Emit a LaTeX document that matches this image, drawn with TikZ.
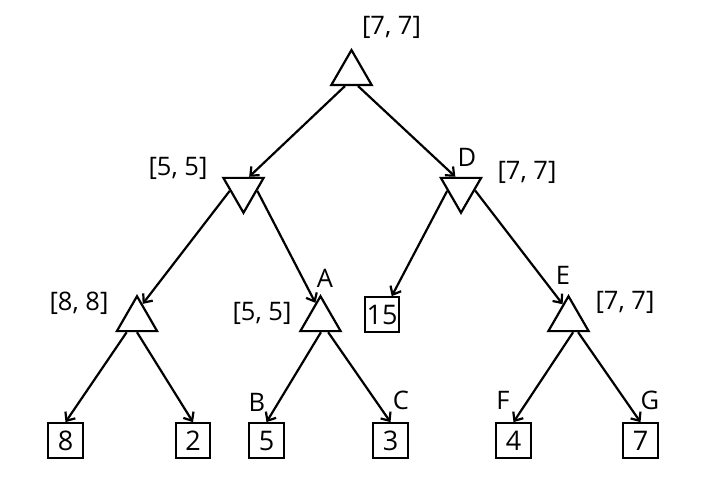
\documentclass[tikz,border=0pt]{standalone}
\usepackage{fontspec}
\setmainfont{Open Sans}
\usetikzlibrary{shapes.geometric,arrows.meta}
\begin{document}
\begin{tikzpicture}[x=1pt,y=-1pt,
  tri/.style={regular polygon, regular polygon sides=3, draw, line width=2.2pt, minimum size=46.5pt, inner sep=0pt},
  maxnode/.style={tri},
  minnode/.style={tri, shape border rotate=180},
  leaf/.style={draw, line width=2.2pt, minimum size=34.5pt, inner sep=0pt, font=\fontsize{27}{30}\selectfont},
  lbl/.style={inner sep=0pt, font=\fontsize{25.5}{30}\selectfont},
  edge/.style={line width=2.2pt, -{Straight Barb[length=7pt,width=12pt]}}]
\useasboundingbox (0,0) rectangle (718,494);
% tree nodes
\node[maxnode] (root) at (351.5,73.3) {};
\node[minnode] (L) at (243.5,189.5) {};
\node[minnode] (D) at (461,189.5) {};
\node[maxnode] (M8) at (137,319.5) {};
\node[maxnode] (A) at (320.5,319.5) {};
\node[maxnode] (E) at (568.5,319.5) {};
\node[leaf] (b15) at (382,314.5) {15};
\node[leaf] (b8) at (65.5,440.5) {8};
\node[leaf] (b2) at (193,440.5) {2};
\node[leaf] (b5) at (266.5,440.5) {5};
\node[leaf] (b3) at (390.5,440.5) {3};
\node[leaf] (b4) at (513.5,440.5) {4};
\node[leaf] (b7) at (640.5,440.5) {7};
% labels
\node[lbl] (lroot) at (391.5,27.5) {[7, 7]};
\node[lbl] (lL) at (178,168) {[5, 5]};
\node[lbl] (lDn) at (467,157) {D};
\node[lbl] (lD) at (527,172) {[7, 7]};
\node[lbl] (lM8) at (79,303) {[8, 8]};
\node[lbl] (lAn) at (325,278) {A};
\node[lbl] (lA) at (262,313) {[5, 5]};
\node[lbl] (lEn) at (563,275) {E};
\node[lbl] (lE) at (625,302) {[7, 7]};
\node[lbl] (lB) at (257,402) {B};
\node[lbl] (lC) at (401,400) {C};
\node[lbl] (lF) at (503,400) {F};
\node[lbl] (lG) at (650,400) {G};
% edges
\draw[edge] (root.-117) -- (L.66);
\draw[edge] (root.-63) -- (D.114);
\draw[edge] (L.-174) -- (M8.70);
\draw[edge] (L.-6) -- (A.107);
\draw[edge] (D.-174) -- (b15.62);
\draw[edge] (D.-4) -- (E.111);
\draw[edge] (M8.-129) -- (b8.north);
\draw[edge] (M8.-90) -- (b2.north);
\draw[edge] (A.-88) -- (b5.north);
\draw[edge] (A.-59) -- (b3.north);
\draw[edge] (E.-70) -- (b4.north);
\draw[edge] (E.-53) -- (b7.north);
\end{tikzpicture}
\end{document}
